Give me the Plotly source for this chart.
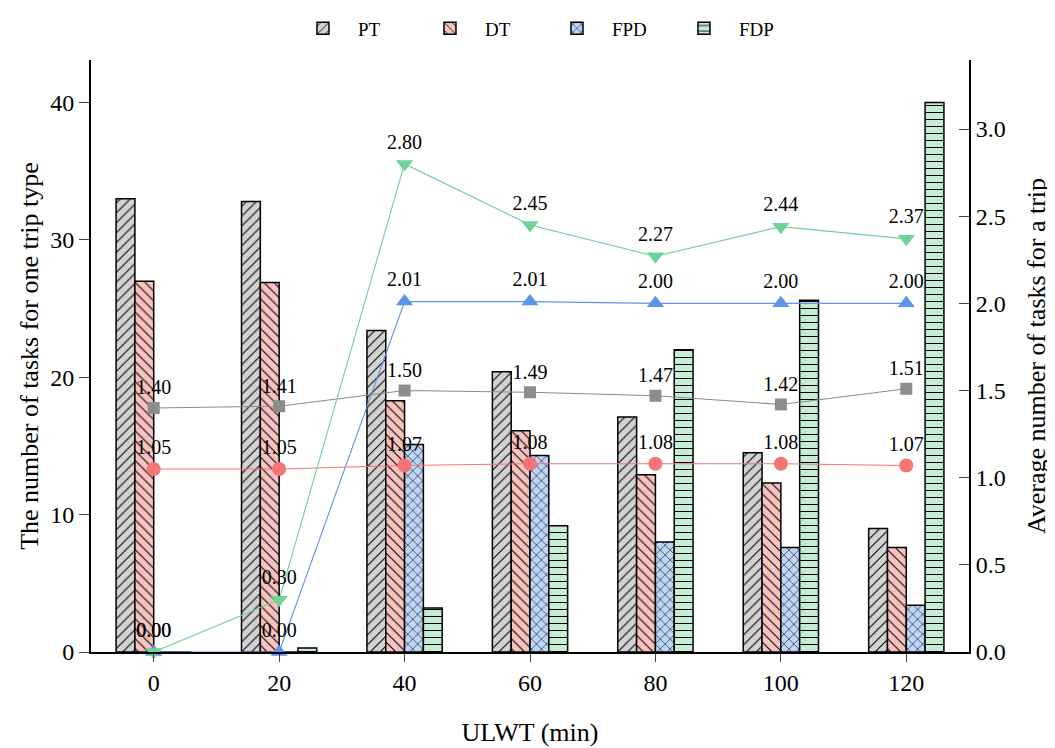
import plotly.graph_objects as go

ulwt = [0, 20, 40, 60, 80, 100, 120]

pt_tasks = [33.0, 32.8, 23.4, 20.4, 17.1, 14.5, 9.0]
dt_tasks = [27.0, 26.9, 18.3, 16.1, 12.9, 12.3, 7.6]
fpd_tasks = [0.0, 0.0, 15.1, 14.3, 8.0, 7.6, 3.4]
fdp_tasks = [0.0, 0.3, 3.2, 9.2, 22.0, 25.6, 40.0]

pt_avg = [1.40, 1.41, 1.50, 1.49, 1.47, 1.42, 1.51]
dt_avg = [1.05, 1.05, 1.07, 1.08, 1.08, 1.08, 1.07]
fpd_avg = [0.00, 0.00, 2.01, 2.01, 2.00, 2.00, 2.00]
fdp_avg = [0.00, 0.30, 2.80, 2.45, 2.27, 2.44, 2.37]

series_names = ["PT", "DT", "FPD", "FDP"]
bar_fill = ["#d3d3d3", "#f8c3bf", "#bdd5f6", "#c5ecd5"]
bar_shape = ["/", "\\", "x", "-"]
line_color = ["#8c8c8c", "#f47575", "#5b95ea", "#6ed299"]
line_symbol = ["square", "circle", "triangle-up", "triangle-down"]
marker_size = [12, 14, 15, 15]

FONT = "Liberation Serif, Times New Roman, serif"

fig = go.Figure()

for name, vals, fill, shp in zip(series_names, [pt_tasks, dt_tasks, fpd_tasks, fdp_tasks], bar_fill, bar_shape):
    fig.add_trace(go.Bar(
        x=ulwt, y=vals, name=name,
        marker=dict(color=fill, line=dict(color="black", width=1.5),
                    pattern=dict(shape=shp, fgcolor="black", bgcolor=fill,
                                 fillmode="replace", size=7, solidity=0.15)),
        yaxis="y",
    ))

for name, vals, col, sym, ms in zip(series_names, [pt_avg, dt_avg, fpd_avg, fdp_avg],
                                    line_color, line_symbol, marker_size):
    fig.add_trace(go.Scatter(
        x=ulwt, y=vals, name=name + " avg", yaxis="y2",
        mode="lines+markers+text",
        line=dict(color=col, width=1.1),
        marker=dict(symbol=sym, size=ms, color=col),
        text=[f"{v:.2f}" for v in vals],
        textposition="top center",
        textfont=dict(family=FONT, size=20, color="black"),
        showlegend=False, cliponaxis=False,
    ))

# the page body adds an 8px offset, so the figure is sized to fit the window
fig.update_layout(
    width=1047, height=740,
    margin=dict(l=83, r=86, t=52, b=96),
    paper_bgcolor="white", plot_bgcolor="white",
    font=dict(family=FONT, size=24, color="black"),
    barmode="group", bargap=0.4, bargroupgap=0,
    showlegend=True,
    legend=dict(orientation="h", x=0.51, xanchor="center", xref="container",
                y=0.998, yanchor="top", yref="container",
                font=dict(family=FONT, size=19),
                itemwidth=60, traceorder="normal", entrywidth=52),
    xaxis=dict(range=[-10, 130], tickvals=ulwt, ticks="outside", ticklen=8,
               showline=True, linecolor="black", linewidth=2, showgrid=False,
               zeroline=False, automargin=False,
               title=dict(text="ULWT (min)", font=dict(size=26), standoff=28),
               tickfont=dict(size=24)),
    yaxis=dict(range=[0, 43.1], tickvals=[0, 10, 20, 30, 40], ticks="outside", ticklen=10,
               showline=True, linecolor="black", linewidth=2, showgrid=False,
               zeroline=False, automargin=False,
               title=dict(text="The number of tasks for one trip type", font=dict(size=26), standoff=4),
               tickfont=dict(size=24)),
    yaxis2=dict(range=[0, 3.396], tickvals=[0, 0.5, 1.0, 1.5, 2.0, 2.5, 3.0],
                ticktext=["0.0", "0.5", "1.0", "1.5", "2.0", "2.5", "3.0"],
                overlaying="y", side="right", ticks="inside", ticklen=10,
                showline=True, linecolor="black", linewidth=2, showgrid=False,
                zeroline=False, automargin=False,
                title=dict(text="Average number of tasks for a trip", font=dict(size=26), standoff=22),
                tickfont=dict(size=24)),
)

fig.write_html("out.html")
